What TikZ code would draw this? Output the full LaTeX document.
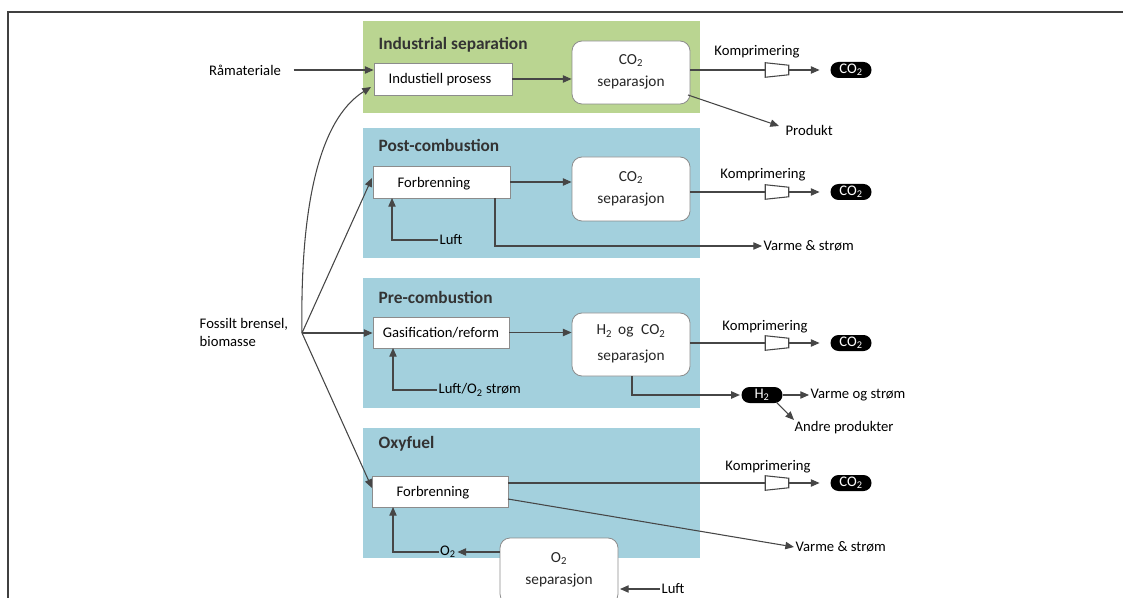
\documentclass[tikz,border=0pt]{standalone}
\usepackage{fontspec}
\setmainfont{Carlito}
\usetikzlibrary{arrows.meta,fit,calc}
\definecolor{pgreen}{RGB}{186,213,145}
\definecolor{pblue}{RGB}{163,208,221}
\definecolor{ln}{RGB}{70,70,70}
\def\PX{0.75pt}
\tikzset{
  every node/.style={font=\fontsize{11}{13.5}\selectfont},
  panel/.style={inner sep=0pt, draw=none},
  box/.style={draw=black!45, fill=white, line width=0.6pt, inner sep=0pt},
  sepbox/.style={box, rounded corners=7.5pt},
  septext/.style={align=center, font=\fontsize{11.5}{17}\selectfont, text=black!85},
  pill/.style={fill=black, rounded corners=6pt, text=white, minimum width=41*\PX, minimum height=16*\PX, inner sep=0pt},
  comp/.style={minimum width=23*\PX, minimum height=14*\PX, inner sep=0pt},
  compline/.style={draw=ln, fill=white, line width=0.8pt},
  title/.style={anchor=west, font=\fontsize{13}{15}\selectfont\bfseries, text=black!80},
  lbl/.style={anchor=west, inner sep=1pt},
  conn/.style={draw=ln, line width=0.8pt},
  arr/.style={conn, -{Triangle[length=6.5pt, width=5.5pt]}},
  frame/.style={draw=black!75, line width=1.5pt}
}
\begin{document}
\begin{tikzpicture}[x=0.75pt, y=-0.75pt]
\useasboundingbox (0,0) rectangle (1123,598);
\clip (0,0) rectangle (1123,598);
% frame
\draw[frame] (8,598) -- (8,12) -- (1123,12);
% panels
\node[panel, fill=pgreen, fit={(363,21) (700,113)}] (pind) {};
\node[panel, fill=pblue, fit={(363,128) (700,258)}] (ppost) {};
\node[panel, fill=pblue, fit={(363,278) (700,408)}] (ppre) {};
\node[panel, fill=pblue, fit={(363,428) (700,558)}] (poxy) {};
% titles
\node[title] (t1) at (374,45) {Industrial separation};
\node[title] (t2) at (374,145) {Post-combustion};
\node[title] (t3) at (374,297) {Pre-combustion};
\node[title] (t4) at (374,444) {Oxyfuel};
% boxes
\node[box, fit={(374,63) (512,95)}] (ip) {};
\node (ipt) at (440,80) {Industiell prosess};
\node[sepbox, fit={(572,41) (690,104)}] (sep1) {};
\node[septext] (sep1t) at (631,72) {CO\textsubscript{2}\\separasjon};
\node[box, fit={(373,166) (510,198)}] (fb1) {};
\node (fb1t) at (434,184) {Forbrenning};
\node[sepbox, fit={(572,157) (690,221)}] (sep2) {};
\node[septext] (sep2t) at (631,189) {CO\textsubscript{2}\\separasjon};
\node[box, fit={(373,317) (509,348)}] (gas) {};
\node (gast) at (441,333) {Gasification/reform};
\node[sepbox, fit={(572,313) (690,376)}] (sep3) {};
\node[septext, font=\fontsize{11.5}{19}\selectfont] (sep3t) at (631,344) {H\textsubscript{2}\, og\; CO\textsubscript{2}\\separasjon};
\node[box, fit={(372,476) (508,507)}] (fb2) {};
\node (fb2t) at (433,493) {Forbrenning};
\node[sepbox, fit={(500,538) (618,604)}] (o2sep) {};
\node[septext] (o2sept) at (559,570) {O\textsubscript{2}\\separasjon};
% compressors and pills
\foreach \n/\y in {1/70, 2/192, 3/343, 4/483}{
  \node[comp] (k\n) at (777,\y) {};
  \draw[compline] (k\n.north west) -- ($(k\n.north east)+(0,2.5)$) -- ($(k\n.south east)+(0,-2.5)$) -- (k\n.south west) -- cycle;
  \node[pill] (c\n) at (851,\y) {CO\textsubscript{2}};
  \draw[arr, shorten >=8pt] (k\n.east) -- (c\n.west);
}
\node (km1) at (757,52) {Komprimering};
\node (km2) at (763,175) {Komprimering};
\node (km3) at (765,327) {Komprimering};
\node (km4) at (768,467) {Komprimering};
\draw[conn] (k1.west -| sep1.east) -- (k1.west);
\draw[conn] (k2.west -| sep2.east) -- (k2.west);
\draw[conn] (k3.west -| sep3.east) -- (k3.west);
\draw[conn] (k4.west -| fb2.east) -- (k4.west);
% industrial
\node (raa) at (245,70) {Råmateriale};
\draw[arr] (raa.east) ++(8,0) coordinate (raas) -- (raas -| ip.west);
\draw[arr] (ip.east) -- (ip.east -| sep1.west);
\coordinate (prodA) at (779,126);
\node[lbl] (prod) at (784,130) {Produkt};
\draw[arr] (688,95) -- (prodA);
% post-combustion
\draw[arr] (fb1.east) -- (fb1.east -| sep2.west);
\node[lbl] (luft1) at (438,240) {Luft};
\draw[arr] (luft1.west) -- (392,240) -- (392,198);
\node[lbl] (vs1) at (762,246) {Varme \& strøm};
\draw[arr] (495,198) -- (495,246) -- (vs1.west);
% pre-combustion
\draw[arr] (gas.east) -- (gas.east -| sep3.west);
\node[lbl] (luft2) at (437,390) {Luft/O\textsubscript{2} strøm};
\draw[arr] (luft2.west) -- (393,390) -- (393,348);
\node[pill] (h2) at (762,395) {H\textsubscript{2}};
\draw[arr, shorten >=1pt] (632,376) -- (632,395) -- (h2.west);
\node[lbl] (vs2) at (809,395) {Varme og strøm};
\draw[arr] (h2.east) -- (vs2.west);
\node[lbl] (andre) at (793,428) {Andre produkter};
\draw[arr] (776,402) -- (794,420);
% oxyfuel
\node[lbl] (vs3) at (794,547) {Varme \& strøm};
\draw[arr] (508,499) -- (vs3.west);
\node[inner sep=1pt] (o2) at (448,552) {O\textsubscript{2}};
\draw[arr] (o2sep.west |- o2) -- (o2.east);
\draw[arr] (o2.west) -- (393,552) -- (393,507);
\node[lbl] (luft3) at (660,589) {Luft};
\draw[arr] (luft3.west) -- (620,589);
% fuel
\node[align=left, anchor=west] (fossil) at (195,332) {Fossilt brensel,\\biomasse};
\coordinate (j) at (302,333);
\draw[arr] (j) .. controls (300,210) and (318,120) .. (371,87);
\draw[arr] (j) -- (372,178);
\draw[arr] (j) -- (j -| gas.west);
\draw[arr] (j) -- (372,488);
\end{tikzpicture}
\end{document}
